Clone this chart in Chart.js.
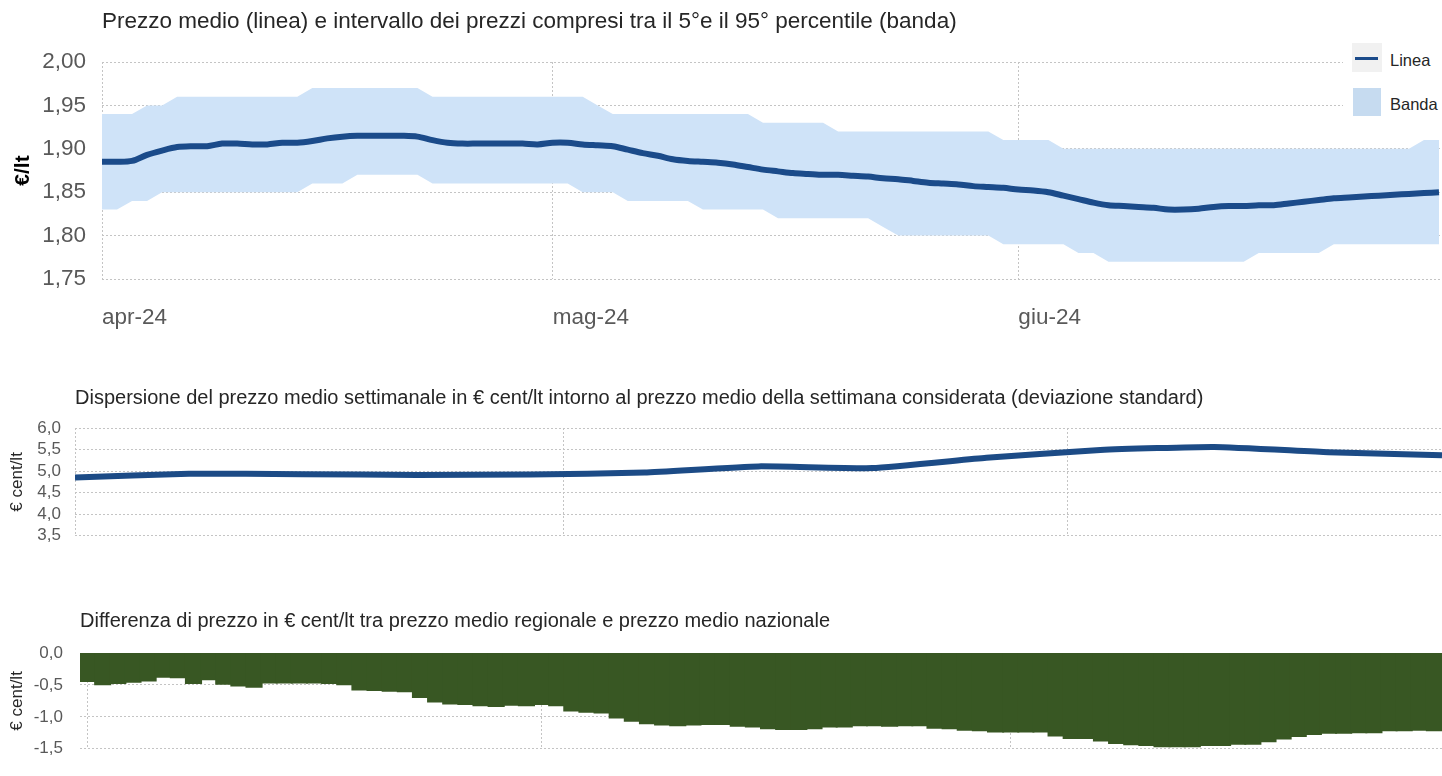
<!DOCTYPE html>
<html lang="it">
<head>
<meta charset="utf-8">
<title>Prezzi carburante</title>
<script src="https://cdn.jsdelivr.net/npm/chart.js@4/dist/chart.umd.min.js"></script>
<style>
    html, body { margin: 0; padding: 0; background: #fff; overflow: hidden; }
    body { width: 1442px; height: 776px; position: relative; font-family: "Liberation Sans", Arial, sans-serif; }
    canvas { position: absolute; left: 0; }
    #legenda { position: absolute; left: 1343px; top: 40px; width: 99px; height: 84px; background: #fff; }
    .voce { position: absolute; left: 47px; font-size: 16.5px; color: #262626; line-height: 20px; }
    .sw-linea { position: absolute; left: 9px; top: 3px; width: 30px; height: 29px; background: #f1f1f1; }
    .sw-linea div { position: absolute; left: 3px; top: 14px; width: 23px; height: 3px; background: #1b4b8a; }
    .sw-banda { position: absolute; left: 10px; top: 48px; width: 28px; height: 28px; background: #c6dbf0; }
</style>
</head>
<body>
<canvas id="grafico1" width="1442" height="340" style="top:0"></canvas>
<canvas id="grafico2" width="1442" height="190" style="top:370px"></canvas>
<canvas id="grafico3" width="1442" height="176" style="top:600px"></canvas>
<div id="legenda">
    <div class="sw-linea"><div></div></div>
    <div class="voce" style="top:10px">Linea</div>
    <div class="sw-banda"></div>
    <div class="voce" style="top:54px">Banda</div>
</div>
<script>
// etichette dei mesi e giorno (da 1 aprile) in cui iniziano
const etichetteMesi = ['apr-24', 'mag-24', 'giu-24'];
const inizioMesi = [0, 30, 61];

// prezzo medio giornaliero (euro/lt), 1 apr - 29 giu
const prezzoMedio = [
    1.885, 1.885, 1.886, 1.893, 1.898, 1.902, 1.903, 1.903, 1.906, 1.906,
    1.905, 1.905, 1.907, 1.907, 1.909, 1.912, 1.914, 1.915, 1.915, 1.915,
    1.915, 1.914, 1.910, 1.907, 1.906, 1.906, 1.906, 1.906, 1.906, 1.905,
    1.907, 1.907, 1.905, 1.904, 1.903, 1.899, 1.895, 1.892, 1.888, 1.886,
    1.885, 1.884, 1.882, 1.879, 1.876, 1.874, 1.872, 1.871, 1.870, 1.870,
    1.869, 1.868, 1.866, 1.865, 1.863, 1.861, 1.860, 1.859, 1.857, 1.856,
    1.855, 1.853, 1.852, 1.850, 1.846, 1.842, 1.838, 1.835, 1.834, 1.833,
    1.832, 1.830, 1.830, 1.831, 1.833, 1.834, 1.834, 1.835, 1.835, 1.837,
    1.839, 1.841, 1.843, 1.844, 1.845, 1.846, 1.847, 1.848, 1.849, 1.850
];

// 95esimo percentile (bordo alto banda)
const percentile95 = [
    1.94, 1.94, 1.94, 1.95, 1.95, 1.96, 1.96, 1.96, 1.96, 1.96,
    1.96, 1.96, 1.96, 1.96, 1.97, 1.97, 1.97, 1.97, 1.97, 1.97,
    1.97, 1.97, 1.96, 1.96, 1.96, 1.96, 1.96, 1.96, 1.96, 1.96,
    1.96, 1.96, 1.96, 1.95, 1.94, 1.94, 1.94, 1.94, 1.94, 1.94,
    1.94, 1.94, 1.94, 1.94, 1.93, 1.93, 1.93, 1.93, 1.93, 1.92,
    1.92, 1.92, 1.92, 1.92, 1.92, 1.92, 1.92, 1.92, 1.92, 1.92,
    1.91, 1.91, 1.91, 1.91, 1.90, 1.90, 1.90, 1.90, 1.90, 1.90,
    1.90, 1.90, 1.90, 1.90, 1.90, 1.90, 1.90, 1.90, 1.90, 1.90,
    1.90, 1.90, 1.90, 1.90, 1.90, 1.90, 1.90, 1.90, 1.91, 1.91
];

// 5o percentile (bordo basso banda)
const percentile5 = [
    1.83, 1.83, 1.84, 1.84, 1.85, 1.85, 1.85, 1.85, 1.85, 1.85,
    1.85, 1.85, 1.85, 1.85, 1.86, 1.86, 1.86, 1.87, 1.87, 1.87,
    1.87, 1.87, 1.86, 1.86, 1.86, 1.86, 1.86, 1.86, 1.86, 1.86,
    1.86, 1.86, 1.85, 1.85, 1.85, 1.84, 1.84, 1.84, 1.84, 1.84,
    1.83, 1.83, 1.83, 1.83, 1.83, 1.82, 1.82, 1.82, 1.82, 1.82,
    1.82, 1.82, 1.81, 1.80, 1.80, 1.80, 1.80, 1.80, 1.80, 1.80,
    1.79, 1.79, 1.79, 1.79, 1.79, 1.78, 1.78, 1.77, 1.77, 1.77,
    1.77, 1.77, 1.77, 1.77, 1.77, 1.77, 1.77, 1.78, 1.78, 1.78,
    1.78, 1.78, 1.79, 1.79, 1.79, 1.79, 1.79, 1.79, 1.79, 1.79
];

// deviazione standard settimanale (cent/lt), una per settimana
const giorniSettimane = [0, 7, 14, 21, 28, 35, 42, 49, 56, 63, 70, 77, 84];
const deviazioneStd = [4.85, 4.94, 4.93, 4.91, 4.92, 4.97, 5.11, 5.07, 5.31, 5.49, 5.56, 5.44, 5.37];

// differenza prezzo regionale - nazionale (cent/lt), giornaliera
const differenza = [
    -0.44, -0.49, -0.47, -0.45, -0.43, -0.37, -0.38, -0.47, -0.41, -0.48,
    -0.51, -0.53, -0.46, -0.46, -0.46, -0.46, -0.47, -0.49, -0.57, -0.58,
    -0.59, -0.60, -0.69, -0.76, -0.79, -0.80, -0.82, -0.83, -0.81, -0.82,
    -0.80, -0.82, -0.90, -0.92, -0.93, -1.01, -1.06, -1.10, -1.12, -1.13,
    -1.12, -1.11, -1.11, -1.14, -1.15, -1.18, -1.19, -1.19, -1.18, -1.15,
    -1.15, -1.13, -1.13, -1.14, -1.13, -1.13, -1.17, -1.18, -1.20, -1.21,
    -1.23, -1.23, -1.23, -1.23, -1.29, -1.33, -1.33, -1.37, -1.41, -1.43,
    -1.44, -1.46, -1.46, -1.46, -1.44, -1.44, -1.42, -1.42, -1.38, -1.34,
    -1.30, -1.27, -1.25, -1.25, -1.24, -1.24, -1.21, -1.21, -1.20, -1.21
];

// indice del giorno (0 = 1 aprile)
const giorni = prezzoMedio.map((v, i) => i);

const FONT = '"Liberation Sans", Arial, sans-serif';
const GRIGIO_GRIGLIA = '#c4c4c4';
const GRIGIO_TESTO = '#595959';

function virgola(v, dec) {
    return v.toFixed(dec).replace('.', ',');
}

function punti(xs, ys) {
    return xs.map((x, i) => ({ x: x, y: ys[i] }));
}

// tick sull'asse x solo all'inizio di ogni mese
function tickMesi(scale) {
    scale.ticks = inizioMesi.map(v => ({ value: v }));
}

function griglia() {
    return { color: GRIGIO_GRIGLIA, lineWidth: 1, drawTicks: false };
}

function bordo() {
    return { display: false, dash: [2, 2] };
}

// GRAFICO 1 ==============================================================
const config1 = {
    type: 'line',
    data: {
        datasets: [
            {
                label: 'Linea',
                data: punti(giorni, prezzoMedio),
                borderColor: '#1b4b8a',
                borderWidth: 6,
                pointRadius: 0,
                tension: 0.3,
                fill: false
            },
            {
                label: 'Banda',
                data: punti(giorni, percentile95),
                borderWidth: 0,
                pointRadius: 0,
                backgroundColor: '#cfe3f8',
                fill: '+1'
            },
            {
                label: 'p5',
                data: punti(giorni, percentile5),
                borderWidth: 0,
                pointRadius: 0,
                fill: false
            }
        ]
    },
    options: {
        responsive: false,
        animation: false,
        devicePixelRatio: 1,
        layout: { padding: 0 },
        plugins: {
            legend: { display: false },
            tooltip: { enabled: false },
            title: {
                display: true,
                text: 'Prezzo medio (linea) e intervallo dei prezzi compresi tra il 5°e il 95° percentile (banda)',
                align: 'start',
                fullSize: false,
                color: '#262626',
                font: { family: FONT, size: 22.5, weight: 'normal' },
                padding: { top: 8.5, bottom: 26.5 }
            }
        },
        scales: {
            x: {
                type: 'linear',
                min: 0,
                max: 89.2,
                afterBuildTicks: tickMesi,
                afterFit: s => { s.height = 61; },
                grid: griglia(),
                border: bordo(),
                ticks: {
                    align: 'start',
                    padding: 25.5,
                    color: GRIGIO_TESTO,
                    font: { family: FONT, size: 22.5 },
                    callback: v => etichetteMesi[inizioMesi.indexOf(v)]
                }
            },
            y: {
                min: 1.75,
                max: 2.00,
                afterFit: s => { s.width = 102; },
                grid: griglia(),
                border: bordo(),
                ticks: {
                    stepSize: 0.05,
                    autoSkip: false,
                    padding: 16,
                    color: GRIGIO_TESTO,
                    font: { family: FONT, size: 22.5 },
                    callback: v => virgola(v, 2)
                },
                title: {
                    display: true,
                    text: '€/lt',
                    color: '#000',
                    font: { family: FONT, size: 21, weight: 'bold' },
                    padding: { top: 11, bottom: 0 }
                }
            }
        }
    }
};

new Chart(document.getElementById('grafico1'), config1);

// GRAFICO 2 ==============================================================
const config2 = {
    type: 'line',
    data: {
        datasets: [{
            label: 'Deviazione standard',
            data: punti(giorniSettimane, deviazioneStd),
            borderColor: '#1c4b86',
            borderWidth: 6,
            pointRadius: 0,
            tension: 0.15,
            fill: false
        }]
    },
    options: {
        responsive: false,
        animation: false,
        devicePixelRatio: 1,
        layout: { padding: 0 },
        plugins: {
            legend: { display: false },
            tooltip: { enabled: false },
            title: {
                display: true,
                text: 'Dispersione del prezzo medio settimanale in € cent/lt intorno al prezzo medio della settimana considerata (deviazione standard)',
                align: 'start',
                fullSize: false,
                color: '#262626',
                font: { family: FONT, size: 20, weight: 'normal' },
                padding: { top: 16, bottom: 18 }
            }
        },
        scales: {
            x: {
                type: 'linear',
                min: 0,
                max: 84,
                afterBuildTicks: tickMesi,
                afterFit: s => { s.height = 17; },
                grid: griglia(),
                border: bordo(),
                ticks: { display: false }
            },
            y: {
                min: 3.5,
                max: 6.0,
                afterFit: s => { s.width = 75; },
                grid: griglia(),
                border: bordo(),
                ticks: {
                    stepSize: 0.5,
                    autoSkip: false,
                    padding: 14,
                    color: GRIGIO_TESTO,
                    font: { family: FONT, size: 17 },
                    callback: v => virgola(v, 1)
                },
                title: {
                    display: true,
                    text: '€ cent/lt',
                    color: '#262626',
                    font: { family: FONT, size: 17, weight: 'normal' },
                    padding: { top: 7, bottom: 0 }
                }
            }
        }
    }
};

new Chart(document.getElementById('grafico2'), config2);

// GRAFICO 3 ==============================================================
const config3 = {
    type: 'bar',
    data: {
        datasets: [{
            label: 'Differenza',
            data: punti(giorni, differenza),
            backgroundColor: '#385723',
            borderWidth: 0,
            inflateAmount: 1,
            barPercentage: 1,
            categoryPercentage: 1
        }]
    },
    options: {
        responsive: false,
        animation: false,
        devicePixelRatio: 1,
        layout: { padding: 0 },
        plugins: {
            legend: { display: false },
            tooltip: { enabled: false },
            title: {
                display: true,
                text: 'Differenza di prezzo in € cent/lt tra prezzo medio regionale e prezzo medio nazionale',
                align: 'start',
                fullSize: false,
                color: '#262626',
                font: { family: FONT, size: 20, weight: 'normal' },
                padding: { top: 9, bottom: 20 }
            }
        },
        scales: {
            x: {
                type: 'linear',
                min: -0.5,
                max: 89.5,
                offset: false,
                afterBuildTicks: tickMesi,
                afterFit: s => { s.height = 5; },
                grid: Object.assign(griglia(), { offset: false }),
                border: bordo(),
                ticks: { display: false }
            },
            y: {
                min: -1.5,
                max: 0,
                afterFit: s => { s.width = 80; },
                grid: griglia(),
                border: bordo(),
                ticks: {
                    stepSize: 0.5,
                    autoSkip: false,
                    padding: 17,
                    color: GRIGIO_TESTO,
                    font: { family: FONT, size: 17 },
                    callback: v => virgola(v, 1)
                },
                title: {
                    display: true,
                    text: '€ cent/lt',
                    color: '#262626',
                    font: { family: FONT, size: 17, weight: 'normal' },
                    padding: { top: 7, bottom: 0 }
                }
            }
        }
    }
};

new Chart(document.getElementById('grafico3'), config3);
</script>
</body>
</html>
